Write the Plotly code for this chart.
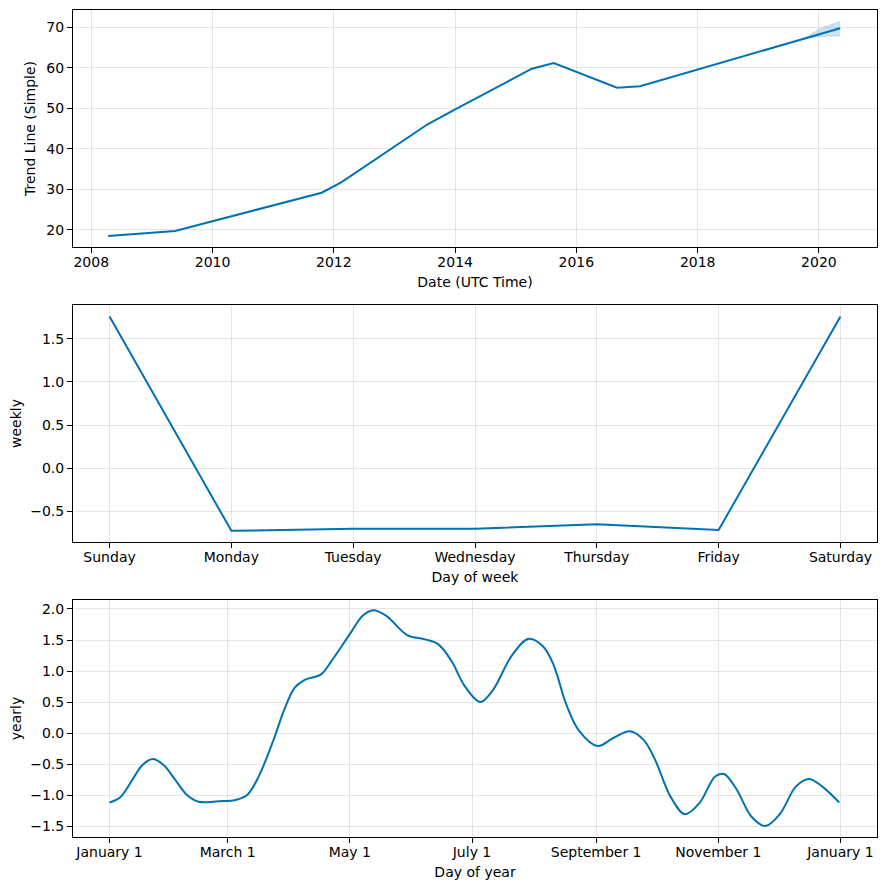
import plotly.graph_objects as go
from plotly.subplots import make_subplots

# ---- Trend data ----
trend_dates = ["2008-04-12", "2009-05-20", "2011-10-20", "2012-02-17", "2013-07-19",
               "2014-01-01", "2015-04-08", "2015-08-18", "2016-09-02", "2017-01-19",
               "2020-05-08"]
trend_values = [18.5, 19.75, 29.2, 31.8, 46.1, 49.8, 59.8, 61.2, 55.1, 55.5, 69.8]

band_dates = ["2019-10-01", "2020-01-01", "2020-05-08"]
band_upper = [67.2, 69.6, 71.5]
band_lower = [67.2, 67.7, 67.9]

# ---- Weekly ----
weekdays = ["Sunday", "Monday", "Tuesday", "Wednesday", "Thursday", "Friday", "Saturday"]
weekly_values = [1.76, -0.73, -0.705, -0.705, -0.655, -0.72, 1.76]

# ---- Yearly ----
yearly_days = [0, 5.5, 11.3, 16.3, 21.6, 27.1, 32.9, 38.7, 44.5, 54.5, 62.8, 68.7, 74.5,
               81.9, 87.3, 92.5, 97.7,
               105.6, 110.8, 119.9, 126.4, 131.6, 138.2, 148.6, 157.7, 164.2, 170.8,
               177.3, 185.1, 191.6, 200.7, 209.3, 216.4, 221.6, 228.1, 234.6, 243.7,
               251.6, 259.9, 266.7, 272.4, 280.2, 287.3, 294.6, 302.4, 306.8, 312.8,
               320.6, 327.6, 334.9, 342.8, 349.3, 355.8, 364.4]
yearly_values = [-1.12, -1.03, -0.76, -0.52, -0.42, -0.52, -0.76, -1.0, -1.11, -1.10,
                 -1.08, -1.0, -0.70, -0.11,
                 0.38, 0.73, 0.86, 0.945, 1.16, 1.59, 1.89, 1.98, 1.89, 1.58, 1.51, 1.43,
                 1.16, 0.76, 0.50, 0.70, 1.24, 1.52, 1.40, 1.11, 0.46, 0.03, -0.21, -0.08,
                 0.03, -0.11, -0.43, -1.03, -1.31, -1.13, -0.70, -0.66, -0.89, -1.35,
                 -1.50, -1.30, -0.86, -0.74, -0.86, -1.12]
month_tick_days = [0, 59, 120, 181, 243, 304, 365]
month_tick_labels = ["January 1", "March 1", "May 1", "July 1", "September 1",
                     "November 1", "January 1"]

LINE = "#0072B2"
FONT = "DejaVu Sans"
GRID = "rgba(128,128,128,0.2)"

fig = make_subplots(rows=3, cols=1)

fig.add_trace(go.Scatter(x=band_dates, y=band_upper, mode="lines", line=dict(width=0.5, color="rgba(0,114,178,0.3)"),
                         showlegend=False, hoverinfo="skip"), row=1, col=1)
fig.add_trace(go.Scatter(x=band_dates, y=band_lower, mode="lines", line=dict(width=0.5, color="rgba(0,114,178,0.3)"),
                         fill="tonexty", fillcolor="rgba(0,114,178,0.2)", showlegend=False,
                         hoverinfo="skip"), row=1, col=1)
fig.add_trace(go.Scatter(x=trend_dates, y=trend_values, mode="lines",
                         line=dict(color=LINE, width=2), showlegend=False), row=1, col=1)

fig.add_trace(go.Scatter(x=list(range(7)), y=weekly_values, mode="lines",
                         line=dict(color=LINE, width=2), showlegend=False), row=2, col=1)

fig.add_trace(go.Scatter(x=yearly_days, y=yearly_values, mode="lines",
                         line=dict(color=LINE, width=2, shape="spline", smoothing=1.0),
                         showlegend=False), row=3, col=1)

# page has an 8px body margin; figure sized to fit the window
OFF = 8
W, H = 879, 882
ml, mr, mt, mb = 65, 10, 2, 53
ph = H - mt - mb

def ydom(top, bottom):
    # top/bottom given in page pixel coordinates
    t, b = top - OFF, bottom - OFF
    return [(H - mb - b) / ph, (H - mb - t) / ph]

axis_common = dict(showline=True, mirror=True, linecolor="black", linewidth=1,
                   ticks="outside", ticklen=5, tickwidth=1, tickcolor="black",
                   showgrid=True, gridcolor=GRID, gridwidth=1, zeroline=False,
                   automargin=False,
                   tickfont=dict(family=FONT, size=14, color="black"),
                   title_font=dict(family=FONT, size=14, color="black"))

fig.update_layout(
    width=W, height=H, margin=dict(l=ml, r=mr, t=mt, b=mb),
    paper_bgcolor="white", plot_bgcolor="white",
    font=dict(family=FONT, size=14, color="black"),
)

fig.update_xaxes(**axis_common)
fig.update_yaxes(**axis_common)
fig.update_xaxes(ticklabelstandoff=-3)

fig.update_xaxes(row=1, col=1, type="date", range=["2007-09-13", "2020-12-16"],
                 dtick="M24", tick0="2008-01-01", tickformat="%Y",
                 title=dict(text="Date (UTC Time)", standoff=8))
fig.update_yaxes(row=1, col=1, range=[15.8, 74.3], tickvals=[20, 30, 40, 50, 60, 70],
                 title=dict(text="Trend Line (Simple)", standoff=7), domain=ydom(10, 247))

fig.update_xaxes(row=2, col=1, range=[-0.3, 6.3], tickvals=list(range(7)), ticktext=weekdays,
                 title=dict(text="Day of week", standoff=8))
fig.update_yaxes(row=2, col=1, range=[-0.86, 1.895], tickvals=[-0.5, 0, 0.5, 1.0, 1.5],
                 tickformat=".1f", title=dict(text="weekly", standoff=7), domain=ydom(305, 542))

fig.update_xaxes(row=3, col=1, range=[-18.25, 383.25], tickvals=month_tick_days,
                 ticktext=month_tick_labels, title=dict(text="Day of year", standoff=8))
fig.update_yaxes(row=3, col=1, range=[-1.677, 2.145],
                 tickvals=[-1.5, -1.0, -0.5, 0, 0.5, 1.0, 1.5, 2.0], tickformat=".1f",
                 title=dict(text="yearly", standoff=7), domain=ydom(600, 837))

fig.write_html("out.html")
